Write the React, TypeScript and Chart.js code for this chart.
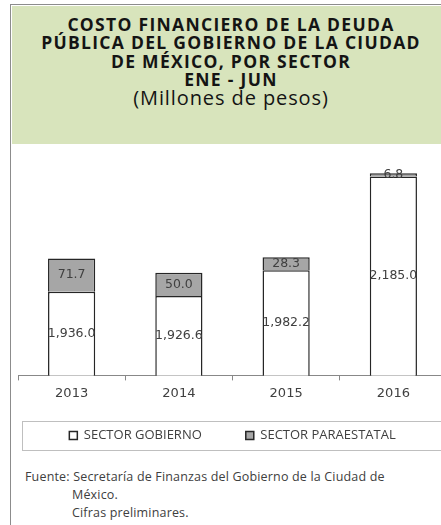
import React, { useEffect, useRef } from "react";
import { Chart, registerables } from "chart.js";

Chart.register(...registerables);

const categories = ["2013", "2014", "2015", "2016"];
const sectorGobierno = [1936.0, 1926.6, 1982.2, 2185.0];
const sectorParaestatal = [71.7, 50.0, 28.3, 6.8];
const seriesNames = ["SECTOR GOBIERNO", "SECTOR PARAESTATAL"];
const titleLines = [
  "COSTO FINANCIERO DE LA DEUDA",
  "PÚBLICA DEL GOBIERNO DE LA CIUDAD",
  "DE MÉXICO, POR SECTOR",
  "ENE - JUN",
];
const subtitle = "(Millones de pesos)";
const footLines = [
  "Fuente: Secretaría de Finanzas del Gobierno de la Ciudad de",
  "México.",
  "Cifras preliminares.",
];

const AXIS_SHRINK = 21;

const fmt = (v: number) =>
  v.toLocaleString("en-US", { minimumFractionDigits: 1, maximumFractionDigits: 1 });

const labelPlugin = {
  id: "segLabels",
  afterDatasetsDraw(chart: any) {
    const { ctx, chartArea } = chart;
    ctx.save();
    ctx.font = "12.5px 'DejaVu Sans'";
    ctx.fillStyle = "#404040";
    ctx.textAlign = "center";
    ctx.textBaseline = "middle";
    chart.data.datasets.forEach((ds: any, di: number) => {
      const meta = chart.getDatasetMeta(di);
      meta.data.forEach((el: any, i: number) => {
        const top = el.y;
        const base = Math.min(el.base, chartArea.bottom);
        const y = (top + base) / 2;
        ctx.fillText(fmt(ds.data[i]), el.x, y);
      });
    });
    ctx.restore();
  },
};

// restore the x scale's full box after layout so its labels are not clipped
const axisRestorePlugin = {
  id: "axisRestore",
  afterLayout(chart: any) {
    const s = chart.scales.x;
    if (s) {
      s.bottom += AXIS_SHRINK;
      s.height += AXIS_SHRINK;
    }
  },
};

const legendBoxPlugin = {
  id: "legendBox",
  afterDraw(chart: any) {
    const lg = chart.legend;
    if (!lg || !lg.legendHitBoxes || !lg.legendHitBoxes.length) return;
    const hb = lg.legendHitBoxes[0];
    const cy = hb.top + hb.height / 2;
    const { ctx } = chart;
    ctx.save();
    ctx.strokeStyle = "#bfbfbf";
    ctx.lineWidth = 1;
    ctx.strokeRect(22.5, Math.round(cy - 14.5) + 0.5, 440, 29);
    ctx.restore();
  },
};

export default function App() {
  const ref = useRef<HTMLCanvasElement | null>(null);
  useEffect(() => {
    document.body.style.margin = "0";
    const chart = new Chart(ref.current as HTMLCanvasElement, {
      type: "bar",
      data: {
        labels: categories,
        datasets: [
          {
            label: seriesNames[0],
            data: sectorGobierno,
            backgroundColor: "#ffffff",
            borderColor: "#262626",
            borderWidth: 1.5,
            barPercentage: 0.44,
            categoryPercentage: 1,
          },
          {
            label: seriesNames[1],
            data: sectorParaestatal,
            backgroundColor: "#a6a6a6",
            borderColor: "#262626",
            borderWidth: 1.5,
            barPercentage: 0.44,
            categoryPercentage: 1,
          },
        ],
      },
      options: {
        animation: false,
        responsive: true,
        maintainAspectRatio: false,
        layout: { padding: { left: 18, right: 5, top: 6, bottom: 8 } },
        scales: {
          x: {
            stacked: true,
            grid: {
              offset: true,
              drawOnChartArea: false,
              drawTicks: true,
              tickLength: 5,
              color: "#888888",
            },
            border: { display: true, color: "#888888", width: 1 },
            ticks: {
              font: { family: "'DejaVu Sans'", size: 13 },
              color: "#404040",
              padding: 5,
            },
            afterFit: (s: any) => {
              s.height -= AXIS_SHRINK;
            },
          },
          y: {
            stacked: true,
            display: false,
            min: 1755,
            max: 2242,
          },
        },
        plugins: {
          title: { display: false },
          tooltip: { enabled: false },
          legend: {
            position: "bottom",
            labels: {
              font: { family: "'Open Sans'", size: 13 },
              color: "#404040",
              boxWidth: 8,
              boxHeight: 8,
              padding: 44,
              useBorderRadius: false,
            },
          },
        },
      },
      plugins: [labelPlugin, axisRestorePlugin, legendBoxPlugin],
    });
    return () => chart.destroy();
  }, []);

  return (
    <div
      style={{
        position: "absolute",
        left: 0,
        top: 0,
        width: 441,
        height: 525,
        overflow: "hidden",
        background: "#ffffff",
        fontFamily: "'Open Sans', sans-serif",
      }}
    >
      <div
        style={{
          position: "absolute",
          left: 10,
          top: 4,
          width: 500,
          height: 600,
          borderTop: "1.5px solid #8c8c8c",
          borderLeft: "1.5px solid #8c8c8c",
        }}
      />
      <div
        style={{
          position: "absolute",
          left: 11.5,
          top: 5.5,
          width: 439,
          height: 138.5,
          background: "#d8e4bc",
          color: "#141414",
          textAlign: "center",
          boxSizing: "border-box",
          paddingTop: 9,
        }}
      >
        {titleLines.map((t, i) => (
          <div
            key={i}
            style={{
              fontWeight: 700,
              fontSize: 17.5,
              letterSpacing: 1.3,
              lineHeight: "18.5px",
              whiteSpace: "nowrap",
            }}
          >
            {t}
          </div>
        ))}
        <div
          style={{ fontSize: 20, letterSpacing: 0.9, lineHeight: "18px", whiteSpace: "nowrap" }}
        >
          {subtitle}
        </div>
      </div>
      <div style={{ position: "absolute", left: 0, top: 144, width: 452, height: 316 }}>
        <canvas ref={ref} />
      </div>
      <div
        style={{
          position: "absolute",
          left: 25,
          top: 468,
          fontSize: 12.5,
          letterSpacing: 0.17,
          color: "#404040",
          lineHeight: "18px",
          whiteSpace: "nowrap",
        }}
      >
        <div>{footLines[0]}</div>
        <div style={{ paddingLeft: 47 }}>{footLines[1]}</div>
        <div style={{ paddingLeft: 47 }}>{footLines[2]}</div>
      </div>
    </div>
  );
}
